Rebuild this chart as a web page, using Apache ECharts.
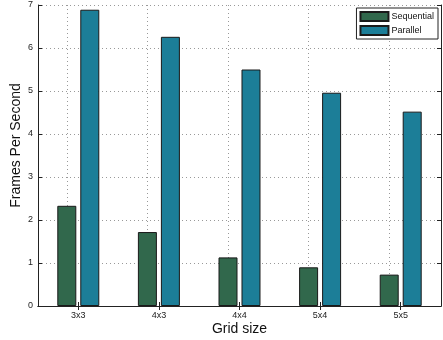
<!DOCTYPE html>
<html>
<head>
<meta charset="utf-8">
<script src="https://cdn.jsdelivr.net/npm/echarts@6/dist/echarts.min.js"></script>
<style>html,body{margin:0;padding:0;background:#fff}#c{width:443px;height:340px}</style>
</head>
<body>
<div id="c"></div>
<script>
const categories = ['3x3', '4x3', '4x4', '5x4', '5x5'];
const sequential = [2.33, 1.72, 1.13, 0.90, 0.73];
const parallel = [6.89, 6.26, 5.50, 4.96, 4.52];
const yTicks = [0, 1, 2, 3, 4, 5, 6, 7];

const font = 'Liberation Sans, Arial, sans-serif';
const chart = echarts.init(document.getElementById('c'));
const frame = { show: true, lineStyle: { color: '#222', width: 1 } };
const gridStyle = { color: '#999', type: [1, 3], width: 1 };
chart.setOption({
  animation: false,
  grid: { left: 38, right: 2, top: 5, bottom: 34, outerBoundsMode: 'none', containLabel: false },
  legend: {
    orient: 'vertical', right: 5, top: 8,
    icon: 'rect',
    itemWidth: 28, itemHeight: 9, itemGap: 3,
    padding: [3, 4, 3, 3],
    borderColor: '#222', borderWidth: 1, backgroundColor: '#fff',
    textStyle: { fontFamily: font, fontSize: 9, color: '#111', padding: [0, 0, 0, -2] },
    data: ['Sequential', 'Parallel']
  },
  xAxis: [{
    type: 'category', data: categories, position: 'bottom',
    name: 'Grid size', nameLocation: 'middle', nameGap: 16, nameMoveOverlap: false,
    nameTextStyle: { fontFamily: font, fontSize: 14, color: '#111' },
    axisLine: frame,
    axisTick: { show: true, inside: true, length: 4, alignWithLabel: true, lineStyle: { color: '#222' } },
    axisLabel: { fontFamily: font, fontSize: 9, color: '#222', margin: 5 },
    splitLine: { show: false }
  }, {
    type: 'category', data: categories, position: 'top',
    axisLine: frame,
    axisTick: { show: true, inside: true, length: 4, alignWithLabel: true, lineStyle: { color: '#222' } },
    axisLabel: { show: false }, splitLine: { show: false }
  }],
  yAxis: [{
    type: 'value', min: yTicks[0], max: yTicks[yTicks.length - 1], interval: 1,
    name: 'Frames Per Second', nameLocation: 'middle', nameGap: 15, nameMoveOverlap: false,
    nameTextStyle: { fontFamily: font, fontSize: 14, color: '#111', padding: [0, 0, 0, 20] },
    axisLine: frame,
    axisTick: { show: true, inside: true, length: 4, lineStyle: { color: '#222' } },
    axisLabel: { fontFamily: font, fontSize: 9, color: '#222', margin: 5 },
    splitLine: { show: true, lineStyle: gridStyle }
  }, {
    type: 'value', min: yTicks[0], max: yTicks[yTicks.length - 1], interval: 1, position: 'right',
    axisLine: frame,
    axisTick: { show: true, inside: true, length: 4, lineStyle: { color: '#222' } },
    axisLabel: { show: false }, splitLine: { show: false }
  }],
  series: [{
    name: 'Sequential', type: 'bar', data: sequential,
    barWidth: 19, barGap: '21%', z: 3,
    itemStyle: { color: '#31684c', borderColor: '#1a1a1a', borderWidth: 1 },
    markLine: {
      silent: true, symbol: 'none', z: 1,
      label: { show: false },
      lineStyle: gridStyle,
      data: categories.map(c => ({ xAxis: c }))
    }
  }, {
    name: 'Parallel', type: 'bar', data: parallel,
    barWidth: 19, barGap: '21%', z: 3,
    itemStyle: { color: '#1c7e98', borderColor: '#1a1a1a', borderWidth: 1 }
  }]
});
</script>
</body>
</html>
